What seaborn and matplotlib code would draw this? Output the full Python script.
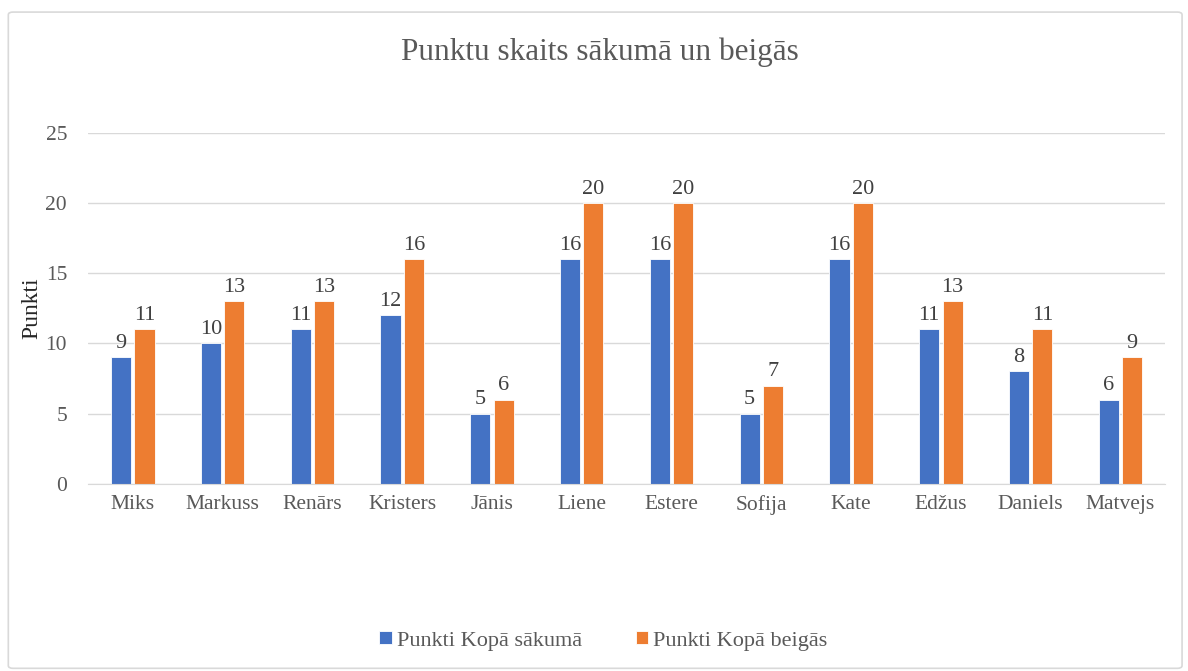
import numpy as np
import pandas as pd
import seaborn as sns
import matplotlib.pyplot as plt
from matplotlib.patches import FancyBboxPatch

names = ["Miks", "Markuss", "Renārs", "Kristers", "Jānis", "Liene",
         "Estere", "Sofija", "Kate", "Edžus", "Daniels", "Matvejs"]
start = [9, 10, 11, 12, 5, 16, 16, 5, 16, 11, 8, 6]
end = [11, 13, 13, 16, 6, 20, 20, 7, 20, 13, 11, 9]
series = ["Punkti Kopā sākumā", "Punkti Kopā beigās"]

df = pd.DataFrame({
    "name": names * 2,
    "value": start + end,
    "series": [series[0]] * len(names) + [series[1]] * len(names),
})

sns.set_style("white")
plt.rcParams["font.family"] = ["Liberation Serif", "DejaVu Serif"]
txt = "#595959"

fig = plt.figure(figsize=(11.88, 6.71), dpi=100)
ax = fig.add_axes([0.074, 0.279, 0.907, 0.523])

sns.barplot(data=df, x="name", y="value", hue="series", ax=ax,
            palette=["#4472C4", "#ED7D31"], width=0.52, gap=0.14,
            edgecolor="white", linewidth=0.6, saturation=1)

for c in ax.containers:
    ax.bar_label(c, fontsize=16, color="#404040", padding=3)

ax.set_ylim(0, 25)
ax.set_yticks(range(0, 26, 5))
ax.yaxis.grid(True, color="#D9D9D9", linewidth=1)
ax.set_axisbelow(True)
for s in ["top", "right", "left"]:
    ax.spines[s].set_visible(False)
ax.spines["bottom"].set_color("#D9D9D9")
ax.tick_params(axis="both", length=0, labelsize=15.5, colors=txt, pad=8)
ax.tick_params(axis="y", pad=15)
ax.set_xlabel("")
ax.set_ylabel("Punkti", fontsize=17, color="#262626", labelpad=2)
ax.set_xlim(-0.5, len(names) - 0.5)

fig.text(0.505, 0.922, "Punktu skaits sākumā un beigās", ha="center",
         va="center", fontsize=22.5, color=txt)

ax.legend_.remove()
handles, labels = ax.get_legend_handles_labels()
fig.legend(handles, labels, loc="center", bbox_to_anchor=(0.508, 0.045),
           ncol=2, frameon=False, fontsize=16, labelcolor=txt,
           handlelength=0.55, handleheight=0.55, handletextpad=0.25,
           columnspacing=2.4)

border = FancyBboxPatch((0.007, 0.004), 0.988, 0.978,
                        boxstyle="round,pad=0,rounding_size=0.004",
                        transform=fig.transFigure, fill=False,
                        edgecolor="#D9D9D9", linewidth=1.2)
fig.patches.append(border)

fig.savefig("out.png", dpi=100)
